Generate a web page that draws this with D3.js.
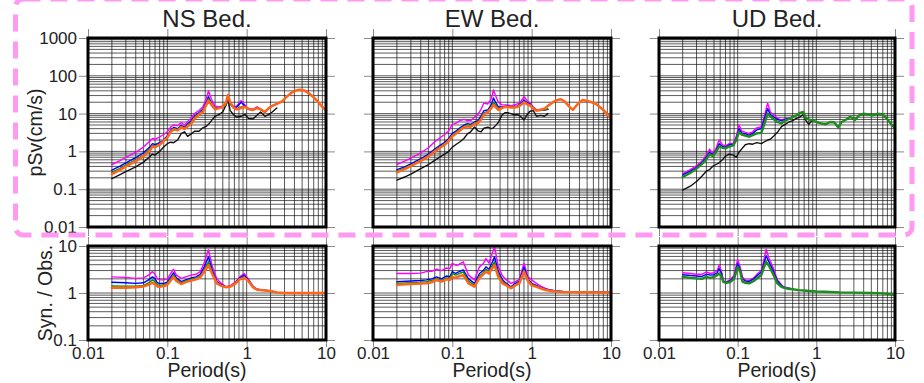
<!DOCTYPE html>
<html><head><meta charset="utf-8">
<script src="https://cdn.jsdelivr.net/npm/d3@7"></script>
<style>
body{margin:0;background:#fff;}
svg{display:block;}
text{font-family:"Liberation Sans",Arial,Helvetica,sans-serif;fill:#222;}
</style>
</head><body>
<svg id="c" width="924" height="383"></svg>
<script>
// ---------- labels ----------
const titles = ["NS Bed.", "EW Bed.", "UD Bed."];
const topYTicks = [0.01, 0.1, 1, 10, 100, 1000];
const topYLabels = ["0.01", "0.1", "1", "10", "100", "1000"];
const botYTicks = [0.1, 1, 10];
const botYLabels = ["0.1", "1", "10"];
const xTicks = [0.01, 0.1, 1, 10];
const xLabels = ["0.01", "0.1", "1", "10"];

// ---------- NS pSv ----------
const P_NS_TOP = [0.02,0.025,0.03,0.04,0.05,0.06,0.065,0.07,0.08,0.09,
 0.1,0.11,0.12,0.135,0.15,0.165,0.18,0.2,0.22,0.25,
 0.28,0.31,0.33,0.36,0.4,0.45,0.5,0.55,0.58,0.62,
 0.68,0.75,0.85,0.95,1.05,1.2,1.35,1.5,1.7,1.9,
 2.1,2.4,2.8,3.2,3.7,4.2,4.7,5.3,6,7,
 8,9,10];
const ns_obs = [0.19,0.24,0.29,0.39,0.52,0.72,0.85,0.8,1.0,1.3,
 1.6,1.75,1.7,2.0,3.0,3.3,2.5,2.9,3.4,3.4,
 4.2,4.6,5.2,6.5,8.5,9.5,11,17,23,12,
 9.5,8.0,8.5,9.5,7.5,7.2,9.0,11,8.5,9.5,
 11,14];
const ns_mag = [0.45,0.56,0.7,0.95,1.3,1.85,2.2,2.1,2.4,2.8,
 3.3,4.4,5.0,4.8,5.8,5.0,6.2,7.5,10,12,
 15,25,40,24,16,15,16,18,25,19,
 15,16,22,17,13.5,13,15,13,11,14,
 16,18];
const ns_blue = [0.32,0.4,0.5,0.68,0.92,1.3,1.6,1.5,1.7,2.0,
 2.6,3.6,4.3,4.0,4.9,4.3,5.3,6.5,8.6,10.5,
 13,20,28,19,14,14.5,15.5,17,27,18,
 14.5,15,20,16,13,12.5,14.5,13,11,14,
 16,18];
const ns_green = [0.28,0.35,0.44,0.6,0.8,1.15,1.45,1.35,1.55,1.85,
 2.4,3.4,4.0,3.8,4.6,4.0,5.0,6.0,8.0,10,
 12,18,25,18,13.5,14,15,17,29,19,
 14.5,13.5,15,15,13.5,12.5,14,13,11,14,
 16,18];
const ns_orange = [0.25,0.32,0.4,0.55,0.75,1.05,1.35,1.3,1.5,1.9,
 2.3,3.3,3.8,3.6,4.4,3.9,4.6,5.4,7.3,9.3,
 11,17,22,17,13,14,15,20,31,20,
 14.5,13,14,15,13.5,12.5,14,13,11,14,
 16,18,21,28,36,41,43,41,35,27,
 20,15,12];

// ---------- EW pSv ----------
const P_EW_TOP = [0.02,0.025,0.03,0.04,0.05,0.06,0.07,0.08,0.09,0.1,
 0.11,0.125,0.14,0.155,0.17,0.19,0.21,0.23,0.25,0.28,
 0.31,0.33,0.35,0.38,0.42,0.46,0.5,0.55,0.6,0.66,
 0.72,0.8,0.88,0.95,1.05,1.15,1.3,1.45,1.6,1.8,
 2.0,2.3,2.6,3.0,3.3,3.8,4.4,5.3,6.5,8,
 10];
const ew_obs = [0.174,0.21,0.25,0.35,0.45,0.58,0.72,0.85,1.0,1.3,
 1.5,1.8,2.2,2.9,3.3,4.4,3.5,3.3,4.1,4.4,
 4.0,4.2,4.8,5.8,9,10.5,10.5,10,9.2,9.5,
 8.5,6.8,9.5,11.5,12,8.5,9.0,8.5,10];
const ew_mag = [0.45,0.55,0.66,0.92,1.25,1.8,2.3,2.8,3.5,5.2,
 5.5,6.5,7.0,6.5,6.5,8.0,9.5,13,19,18,
 25,42,30,20,17,17,17,16,17,18,
 20,28,22,19,15,12.5,13,12.5,13];
const ew_blue = [0.33,0.39,0.47,0.64,0.85,1.15,1.45,1.75,2.2,3.0,
 3.4,4.2,5.0,5.4,5.2,6.0,6.5,8.5,12,12.5,
 17,26,20,15,15,15.5,16,15,15.5,16,
 18,23,19,18,14,12,12.5,12.5,13];
const ew_green = [0.3,0.36,0.43,0.59,0.78,1.05,1.33,1.6,2.0,2.7,
 3.1,3.9,4.6,5.0,4.8,5.7,6.0,7.5,10.5,11.5,
 15,20,17,13.5,14.5,15,15.5,15,15,15.5,
 17,21,18,17.5,14,12,12.5,12.5,13];
const ew_orange = [0.28,0.34,0.41,0.56,0.74,1.0,1.25,1.5,1.9,2.5,
 2.9,3.6,4.3,4.6,4.5,5.3,5.6,7.0,9.5,11,
 14,17,15,12.5,14,15,15,14.5,14.5,15,
 16.5,20,17.5,16.5,13.5,12,12.5,13.5,16,19,
 22,24,21,15,12.5,18,23,21,18,12.5,
 7.5];

// ---------- UD pSv ----------
const P_UD_TOP = [0.02,0.025,0.03,0.035,0.04,0.044,0.048,0.053,0.058,0.064,
 0.07,0.078,0.088,0.096,0.104,0.112,0.125,0.14,0.155,0.175,
 0.2,0.22,0.24,0.26,0.29,0.32,0.36,0.4,0.45,0.5,
 0.56,0.62,0.68,0.74,0.8,0.9,1.0,1.15,1.3,1.5,
 1.7,1.9,2.1,2.4,2.7,3.1,3.5,4.0,4.5,5.2,
 6.0,7.0,7.8,8.8,10];
const ud_obs = [0.095,0.12,0.16,0.22,0.3,0.33,0.4,0.45,0.5,0.6,
 0.75,0.85,0.8,0.7,0.95,1.15,1.5,1.6,1.55,1.7,
 1.6,1.8,2.0,2.1,2.6,3.2,4.5,5.2,6.0,6.5,
 7.5,8.2,9.5,6.5,5.2,6.8];
const ud_mag = [0.26,0.33,0.42,0.55,0.8,1.15,0.9,1.2,2.0,1.5,
 1.4,1.6,1.65,2.5,5.0,3.5,3.2,3.0,3.3,4.2,
 4.5,9,19,11,9,7.5,6.8,7.2,7.5];
const ud_blue = [0.24,0.3,0.38,0.5,0.7,0.95,0.82,1.05,1.6,1.35,
 1.3,1.5,1.55,2.2,4.0,3.1,2.9,2.7,3.0,3.7,
 4.0,7.5,13.5,9.5,8,7,6.5,7.0,7.5];
const ud_green = [0.21,0.27,0.35,0.46,0.62,0.85,0.75,0.95,1.35,1.25,
 1.2,1.35,1.45,2.0,3.3,2.8,2.6,2.45,2.7,3.0,
 3.1,5.5,10,8.5,7,6,5.5,6.5,7.2,8.3,
 9,10.5,11,7.5,7,6.5,6.0,5.5,5.2,6.0,
 5.8,4.3,6.0,7.0,8.3,6.8,9,10,9.5,9.0,
 10,9.5,7.5,5.5,4.1];

// ---------- NS ratio ----------
const P_NS_BOT = [0.02,0.03,0.04,0.05,0.058,0.065,0.07,0.075,0.08,0.09,
 0.1,0.11,0.12,0.13,0.15,0.17,0.2,0.23,0.26,0.29,
 0.33,0.37,0.42,0.48,0.55,0.63,0.72,0.82,0.93,1.05,
 1.2,1.35,1.6,2.0,2.4,3,4,5,7,10];
const ns_r_mag = [2.2,2.15,2.05,2.1,2.4,2.85,2.5,2.0,1.9,1.9,
 2.0,2.6,3.2,2.4,2.05,2.2,2.4,2.5,2.85,4.3,
 8.3,3.6,2.0,1.6,1.36,1.45,1.7,2.2,2.6,2.0,
 1.4,1.2,1.15,1.1,1.03];
const ns_r_blue = [1.69,1.65,1.6,1.65,1.9,2.2,2.0,1.65,1.6,1.6,
 1.7,2.2,2.7,2.1,1.75,1.9,2.1,2.2,2.5,3.5,
 5.9,3.0,1.75,1.5,1.33,1.4,1.65,2.1,2.4,1.9,
 1.36,1.2,1.15,1.1,1.03];
const ns_r_green = [1.41,1.4,1.4,1.45,1.65,1.9,1.75,1.5,1.45,1.5,
 1.6,2.0,2.4,1.95,1.65,1.8,1.95,2.05,2.3,3.0,
 4.6,2.7,1.65,1.45,1.33,1.4,1.6,2.0,2.2,1.85,
 1.34,1.18,1.14,1.1,1.03];
const ns_r_orange = [1.3,1.3,1.32,1.38,1.5,1.65,1.55,1.38,1.35,1.4,
 1.5,1.85,2.2,1.8,1.55,1.7,1.85,1.95,2.15,2.8,
 3.9,2.5,1.6,1.42,1.33,1.38,1.58,1.95,2.1,1.8,
 1.33,1.17,1.14,1.1,1.03,1.0,1.0,1.0,1.0,1.0];

// ---------- EW ratio ----------
const P_EW_BOT = [0.02,0.03,0.04,0.047,0.055,0.063,0.073,0.084,0.093,0.1,
 0.11,0.12,0.137,0.16,0.19,0.22,0.245,0.265,0.29,0.315,
 0.34,0.38,0.43,0.48,0.55,0.62,0.7,0.8,0.9,1.0,
 1.15,1.3,1.5,1.7,2.0,2.5,3.5,5,7,10];
const ew_r_mag = [2.6,2.6,2.65,2.85,2.9,3.2,3.0,3.4,3.3,4.3,
 3.9,4.0,4.6,2.4,1.9,3.6,4.2,5.4,4.3,6.5,
 9.7,3.6,2.3,1.9,1.6,1.75,1.95,4.3,2.2,1.9,
 1.6,1.4,1.25,1.16,1.1,1.08,1.07,1.07,1.06,1.03];
const ew_r_blue = [1.74,1.8,1.85,1.9,2.0,2.2,2.0,2.3,2.2,2.85,
 2.6,2.8,3.1,2.0,1.6,2.6,3.0,3.6,3.2,4.3,
 5.9,2.85,1.9,1.6,1.36,1.6,1.8,3.6,2.0,1.6,
 1.45,1.3,1.2,1.16,1.1,1.07,1.05,1.05,1.04,1.03];
const ew_r_green = [1.6,1.65,1.7,1.75,1.85,2.0,1.85,2.1,2.05,2.6,
 2.4,2.55,2.8,1.8,1.45,2.3,2.7,3.2,2.9,3.7,
 4.6,2.5,1.75,1.5,1.3,1.5,1.7,3.1,1.9,1.55,
 1.4,1.28,1.18,1.14,1.09,1.06,1.04,1.04,1.03,1.02];
const ew_r_orange = [1.5,1.55,1.6,1.62,1.7,1.89,1.75,1.95,1.9,2.2,
 2.1,2.25,2.4,1.6,1.36,2.1,2.5,2.85,2.6,3.3,
 3.9,2.2,1.6,1.45,1.26,1.45,1.6,2.85,1.8,1.45,
 1.35,1.25,1.16,1.12,1.08,1.05,1.04,1.04,1.03,1.02];

// ---------- UD ratio ----------
const P_UD_BOT = [0.02,0.025,0.03,0.035,0.04,0.045,0.05,0.055,0.058,0.062,
 0.066,0.072,0.08,0.09,0.1,0.108,0.115,0.125,0.14,0.16,
 0.18,0.2,0.215,0.23,0.25,0.28,0.32,0.36,0.38,0.42,
 0.5,0.6,0.75,1.0,1.5,2,3,5,7,10];
const ud_r_mag = [2.7,2.6,2.5,2.5,2.8,2.6,2.7,3.0,3.9,3.0,
 1.8,1.75,1.9,2.4,5.2,3.5,2.2,1.9,1.85,2.1,
 2.6,3.0,5.0,8.5,5.5,3.6,1.9,1.5,1.36,1.3,
 1.22];
const ud_r_blue = [2.45,2.35,2.3,2.25,2.5,2.4,2.45,2.7,3.3,2.7,
 1.75,1.7,1.8,2.2,4.3,3.1,2.0,1.8,1.75,2.0,
 2.4,2.8,4.2,6.2,4.6,3.1,1.8,1.45,1.34,1.28,
 1.2];
const ud_r_green = [2.2,2.1,2.05,2.0,2.2,2.1,2.2,2.4,2.6,2.3,
 1.7,1.65,1.7,2.0,3.6,2.8,1.75,1.65,1.6,1.8,
 2.1,2.4,3.5,4.6,3.8,2.6,1.6,1.36,1.3,1.25,
 1.2,1.15,1.12,1.08,1.05,1.03,1.02,1.0,0.98,0.92];

// ---------- styles ----------
const styles = {
  obs:    {color: "#111111", w: 1.4},
  mag:    {color: "#ff00ff", w: 1.4},
  blue:   {color: "#0000ff", w: 1.4},
  green:  {color: "#009000", w: 1.4},
  orange: {color: "#ff6418", w: 2.5},
  greenT: {color: "#1c8c1c", w: 2.4}
};

const panels = [
  {x0: 88, x1: 326,
   top: {P: P_NS_TOP, s: [[ns_obs,"obs"],[ns_mag,"mag"],[ns_blue,"blue"],[ns_green,"green"],[ns_orange,"orange"]]},
   bot: {P: P_NS_BOT, s: [[ns_r_mag,"mag"],[ns_r_blue,"blue"],[ns_r_green,"green"],[ns_r_orange,"orange"]]}},
  {x0: 373, x1: 611,
   top: {P: P_EW_TOP, s: [[ew_obs,"obs"],[ew_mag,"mag"],[ew_blue,"blue"],[ew_green,"green"],[ew_orange,"orange"]]},
   bot: {P: P_EW_BOT, s: [[ew_r_mag,"mag"],[ew_r_blue,"blue"],[ew_r_green,"green"],[ew_r_orange,"orange"]]}},
  {x0: 659, x1: 895,
   top: {P: P_UD_TOP, s: [[ud_obs,"obs"],[ud_mag,"mag"],[ud_blue,"blue"],[ud_green,"greenT"]]},
   bot: {P: P_UD_BOT, s: [[ud_r_mag,"mag"],[ud_r_blue,"blue"],[ud_r_green,"greenT"]]}}
];

const svg = d3.select("#c");
const TOP = {y0: 38, y1: 227, dom: [0.01, 1000], ticks: topYTicks, labels: topYLabels};
const BOT = {y0: 246, y1: 340, dom: [0.1, 10], ticks: botYTicks, labels: botYLabels};

function drawBox(p, box, data, pi, isBottom) {
  const xs = d3.scaleLog().domain([0.01, 10]).range([p.x0, p.x1]);
  const ys = d3.scaleLog().domain(box.dom).range([box.y1, box.y0]);
  const g = svg.append("g");
  // grid
  const grid = g.append("g").attr("stroke", "#000").attr("stroke-opacity", 0.72).attr("stroke-width", 0.9);
  grid.selectAll("line.v").data(xs.ticks()).join("line")
    .attr("x1", d => xs(d)).attr("x2", d => xs(d)).attr("y1", box.y0).attr("y2", box.y1);
  grid.selectAll("line.h").data(ys.ticks()).join("line")
    .attr("y1", d => ys(d)).attr("y2", d => ys(d)).attr("x1", p.x0).attr("x2", p.x1);
  // axes (ticks outward on all sides)
  const fmtY = pi === 0 ? ((d, i) => box.labels[i]) : (() => "");
  const axes = [
    [d3.axisLeft(ys).tickValues(box.ticks).tickSize(9).tickPadding(2).tickFormat(fmtY), `translate(${p.x0},0)`],
    [d3.axisRight(ys).tickValues(box.ticks).tickSize(9).tickFormat(() => ""), `translate(${p.x1},0)`],
    [d3.axisTop(xs).tickValues(xTicks).tickSize(9).tickFormat(() => ""), `translate(0,${box.y0})`],
    [d3.axisBottom(xs).tickValues(xTicks).tickSize(isBottom ? 7 : 9).tickPadding(0)
       .tickFormat(isBottom ? ((d, i) => xLabels[i]) : (() => "")), `translate(0,${box.y1})`]
  ];
  axes.forEach(([ax, tr]) => {
    const a = g.append("g").attr("transform", tr).call(ax);
    a.select(".domain").remove();
    a.selectAll("line").attr("stroke", "#8a8a8a").attr("stroke-width", 1);
    a.selectAll("text").attr("font-size", 17).attr("fill", "#222")
      .attr("font-family", '"Liberation Sans", Arial, sans-serif');
  });
  // series
  const line = d3.line().x(d => xs(d[0])).y(d => ys(d[1]));
  data.s.forEach(([vals, key]) => {
    const pts = vals.map((v, i) => [data.P[i], v]);
    const st = styles[key];
    g.append("path").attr("d", line(pts)).attr("fill", "none")
      .attr("stroke", st.color).attr("stroke-width", st.w)
      .attr("stroke-linejoin", "round").attr("stroke-linecap", "round");
  });
  // frame
  g.append("rect").attr("x", p.x0).attr("y", box.y0)
    .attr("width", p.x1 - p.x0).attr("height", box.y1 - box.y0)
    .attr("fill", "none").attr("stroke", "#000").attr("stroke-width", 3);
}

panels.forEach((p, pi) => {
  drawBox(p, TOP, p.top, pi, false);
  drawBox(p, BOT, p.bot, pi, true);
  const cx = (p.x0 + p.x1) / 2;
  svg.append("text").attr("x", cx).attr("y", 27).attr("text-anchor", "middle")
    .attr("font-size", 24).text(titles[pi]);
  svg.append("text").attr("x", cx).attr("y", 377).attr("text-anchor", "middle")
    .attr("font-size", 19.5).text("Period(s)");
});

svg.append("text").attr("transform", "translate(42,132.5) rotate(-90)")
  .attr("text-anchor", "middle").attr("font-size", 19.5).text("pSv(cm/s)");
svg.append("text").attr("transform", "translate(52,293) rotate(-90)")
  .attr("text-anchor", "middle").attr("font-size", 19.5).text("Syn. / Obs.");

// pink dashed highlight box
svg.append("rect").attr("x", 15.5).attr("y", -1).attr("width", 896.5).attr("height", 236)
  .attr("rx", 8).attr("fill", "none").attr("stroke", "#ff99f2").attr("stroke-width", 5)
  .attr("stroke-dasharray", "17,10");
</script>
</body></html>
